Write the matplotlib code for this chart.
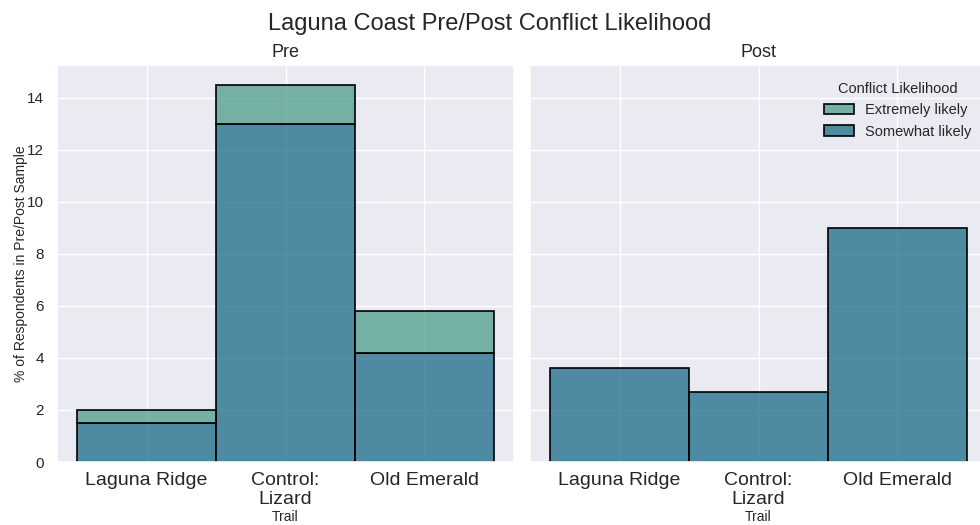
import numpy as np
import matplotlib.pyplot as plt
import seaborn as sns
from matplotlib.patches import Patch

sns.set_theme(style="darkgrid")
plt.rcParams['font.family'] = ['Arial', 'Liberation Sans', 'DejaVu Sans']

trails = ["Laguna Ridge", "Control:\nLizard", "Old Emerald"]
periods = ["Pre", "Post"]
somewhat = {"Pre": [1.5, 13.0, 4.2], "Post": [3.6, 2.7, 9.0]}
extremely = {"Pre": [0.5, 1.5, 1.6], "Post": [0.0, 0.0, 0.0]}

alpha = 0.75
c_extreme = (77 / 255, 157 / 255, 137 / 255, alpha)
c_somewhat = (27 / 255, 106 / 255, 137 / 255, alpha)

fig = plt.figure(figsize=(9.8, 5.25), dpi=100)
ax_w = 457 / 980
ax_b = 63 / 525
ax_h = 397 / 525
ax1 = fig.add_axes([57 / 980, ax_b, ax_w, ax_h])
ax2 = fig.add_axes([530 / 980, ax_b, ax_w, ax_h], sharey=ax1)

x = np.arange(len(trails))
for ax, p in zip([ax1, ax2], periods):
    s = np.array(somewhat[p])
    e = np.array(extremely[p])
    ax.bar(x, s, width=1.0, facecolor=c_somewhat, edgecolor="black",
           linewidth=1.2, label="Somewhat likely")
    m = e > 0
    ax.bar(x[m], e[m], bottom=s[m], width=1.0, facecolor=c_extreme,
           edgecolor="black", linewidth=1.2, label="Extremely likely")
    ax.set_xticks(x)
    ax.set_xticklabels(trails, fontsize=14)
    ax.tick_params(axis="x", pad=1)
    ax.set_xlim(-0.645, 2.645)
    ax.set_xlabel("Trail", fontsize=10, labelpad=1)
    ax.set_title(p, fontsize=13, pad=6)
    ax.tick_params(axis="y", labelsize=11)

ax1.set_ylim(0, 15.25)
ax1.set_yticks(range(0, 15, 2))
ax1.set_ylabel("% of Respondents in Pre/Post Sample", fontsize=10, labelpad=-1)
plt.setp(ax2.get_yticklabels(), visible=False)

handles = [Patch(facecolor=c_extreme, edgecolor="black", linewidth=1.2),
           Patch(facecolor=c_somewhat, edgecolor="black", linewidth=1.2)]
ax2.legend(handles, ["Extremely likely", "Somewhat likely"], title="Conflict Likelihood",
           loc="upper right", bbox_to_anchor=(0.995, 0.99), frameon=False,
           fontsize=10.5, title_fontsize=10.5)

fig.suptitle("Laguna Coast Pre/Post Conflict Likelihood", fontsize=17, y=0.975)

fig.savefig("out.png")
